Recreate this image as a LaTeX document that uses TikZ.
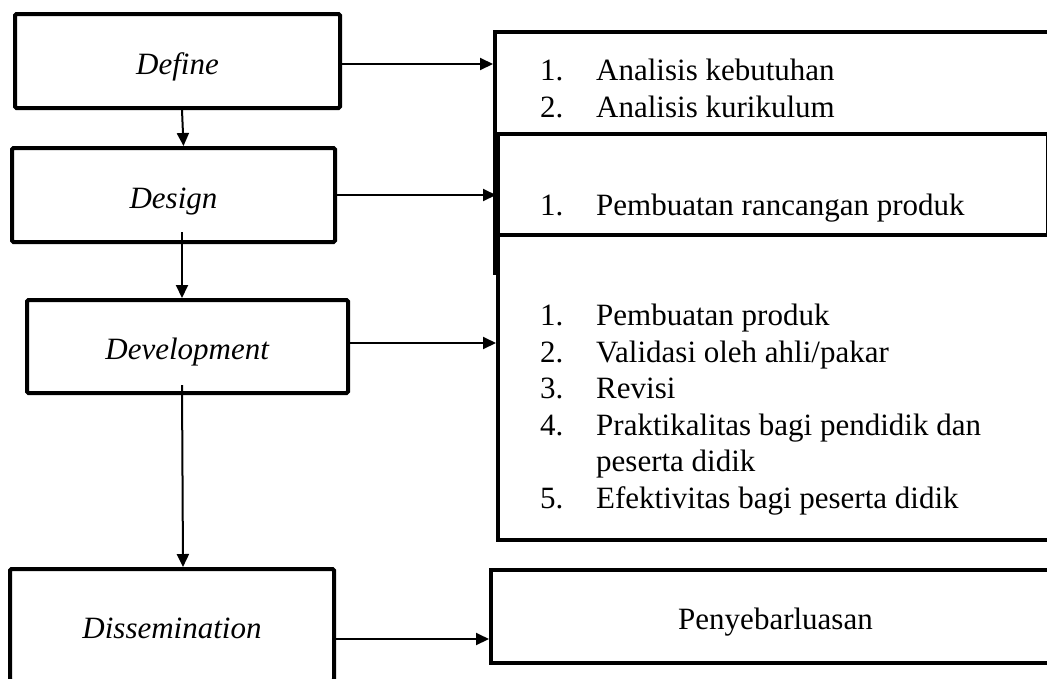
\documentclass[tikz,border=0pt]{standalone}
\usepackage{fontspec}
\setmainfont{Liberation Serif}
\usetikzlibrary{arrows.meta,positioning}
\tikzset{
  stage/.style={draw,line width=4pt,rounded corners=1.5pt,fill=white,inner sep=0pt,text height=26pt,text depth=0pt},
  listbox/.style={draw,line width=4pt,fill=white,inner sep=0pt,text height=26pt,text depth=0pt},
  flow/.style={line width=2pt,-{Triangle[length=13pt,width=12pt]}},
  item/.style={anchor=base west,inner sep=0pt}
}
\begin{document}
\begin{tikzpicture}[x=1pt,y=-1pt,font=\fontsize{31}{37}\selectfont]
\useasboundingbox (0,0) rectangle (1047,678);
% stages on the left
\node[stage,minimum width=325pt,minimum height=94pt] (define) at (177.5,61) {\textit{Define}};
\node[stage,minimum width=323pt,minimum height=94pt] (design) at (173.5,195) {\textit{Design}};
\node[stage,minimum width=321pt,minimum height=93pt] (development) at (187.5,346.5) {\textit{Development}};
\node[stage,minimum width=324pt,minimum height=112pt] (dissemination) at (172,625) {\textit{Dissemination}};
% activities on the right
\node[listbox,minimum width=565pt,minimum height=241pt] (definelist) at (777.5,152.5) {};
\foreach \n/\txt [count=\i] in {1/Analisis kebutuhan,2/Analisis kurikulum,3/Analisis peserta didik}{
  \node[item] (defnum-\i) at (540,43+37*\i) {\n.};
  \node[item] (deftxt-\i) at (596,43+37*\i) {\txt};
}
\node[listbox,minimum width=550pt,minimum height=102pt] (designlist) at (773,185) {};
\node[item] (desnum-1) at (540,215) {1.};
\node[item] (destxt-1) at (596,215) {Pembuatan rancangan produk};
\node[listbox,minimum width=562pt,minimum height=305pt] (devlist) at (779,387.5) {};
\foreach \n/\txt/\yy in {1/Pembuatan produk/325,2/Validasi oleh ahli\slash pakar/362,3/Revisi/398,
  4/Praktikalitas bagi pendidik dan/435,5/Efektivitas bagi peserta didik/508}{
  \node[item] (devnum-\n) at (540,\yy) {\n.};
  \node[item] (devtxt-\n) at (596,\yy) {\txt};
}
\node[item] (devtxt-4b) at (596,471) {peserta didik};
\node[listbox,minimum width=569pt,minimum height=93pt] (disslist) at (775.5,616.5) {Penyebarluasan};
% arrows
\draw[flow] ([xshift=4.5pt]define.south) -- ([xshift=10pt]design.north);
\draw[flow] ([xshift=8.5pt,yshift=12pt]design.south) -- ([xshift=-5.5pt]development.north);
\draw[flow] ([xshift=-5.5pt,yshift=10pt]development.south) -- ([xshift=11pt]dissemination.north);
\draw[flow] ([yshift=-3pt]define.east) -- ([yshift=-3pt]definelist.west |- define.east);
\draw[flow] (design.east) -- (designlist.west |- design.east);
\draw[flow] ([yshift=3.5pt]development.east) -- ([yshift=3.5pt]devlist.west |- development.east);
\draw[flow] ([yshift=-14pt]dissemination.east) -- ([yshift=-14pt]disslist.west |- dissemination.east);
\end{tikzpicture}
\end{document}
